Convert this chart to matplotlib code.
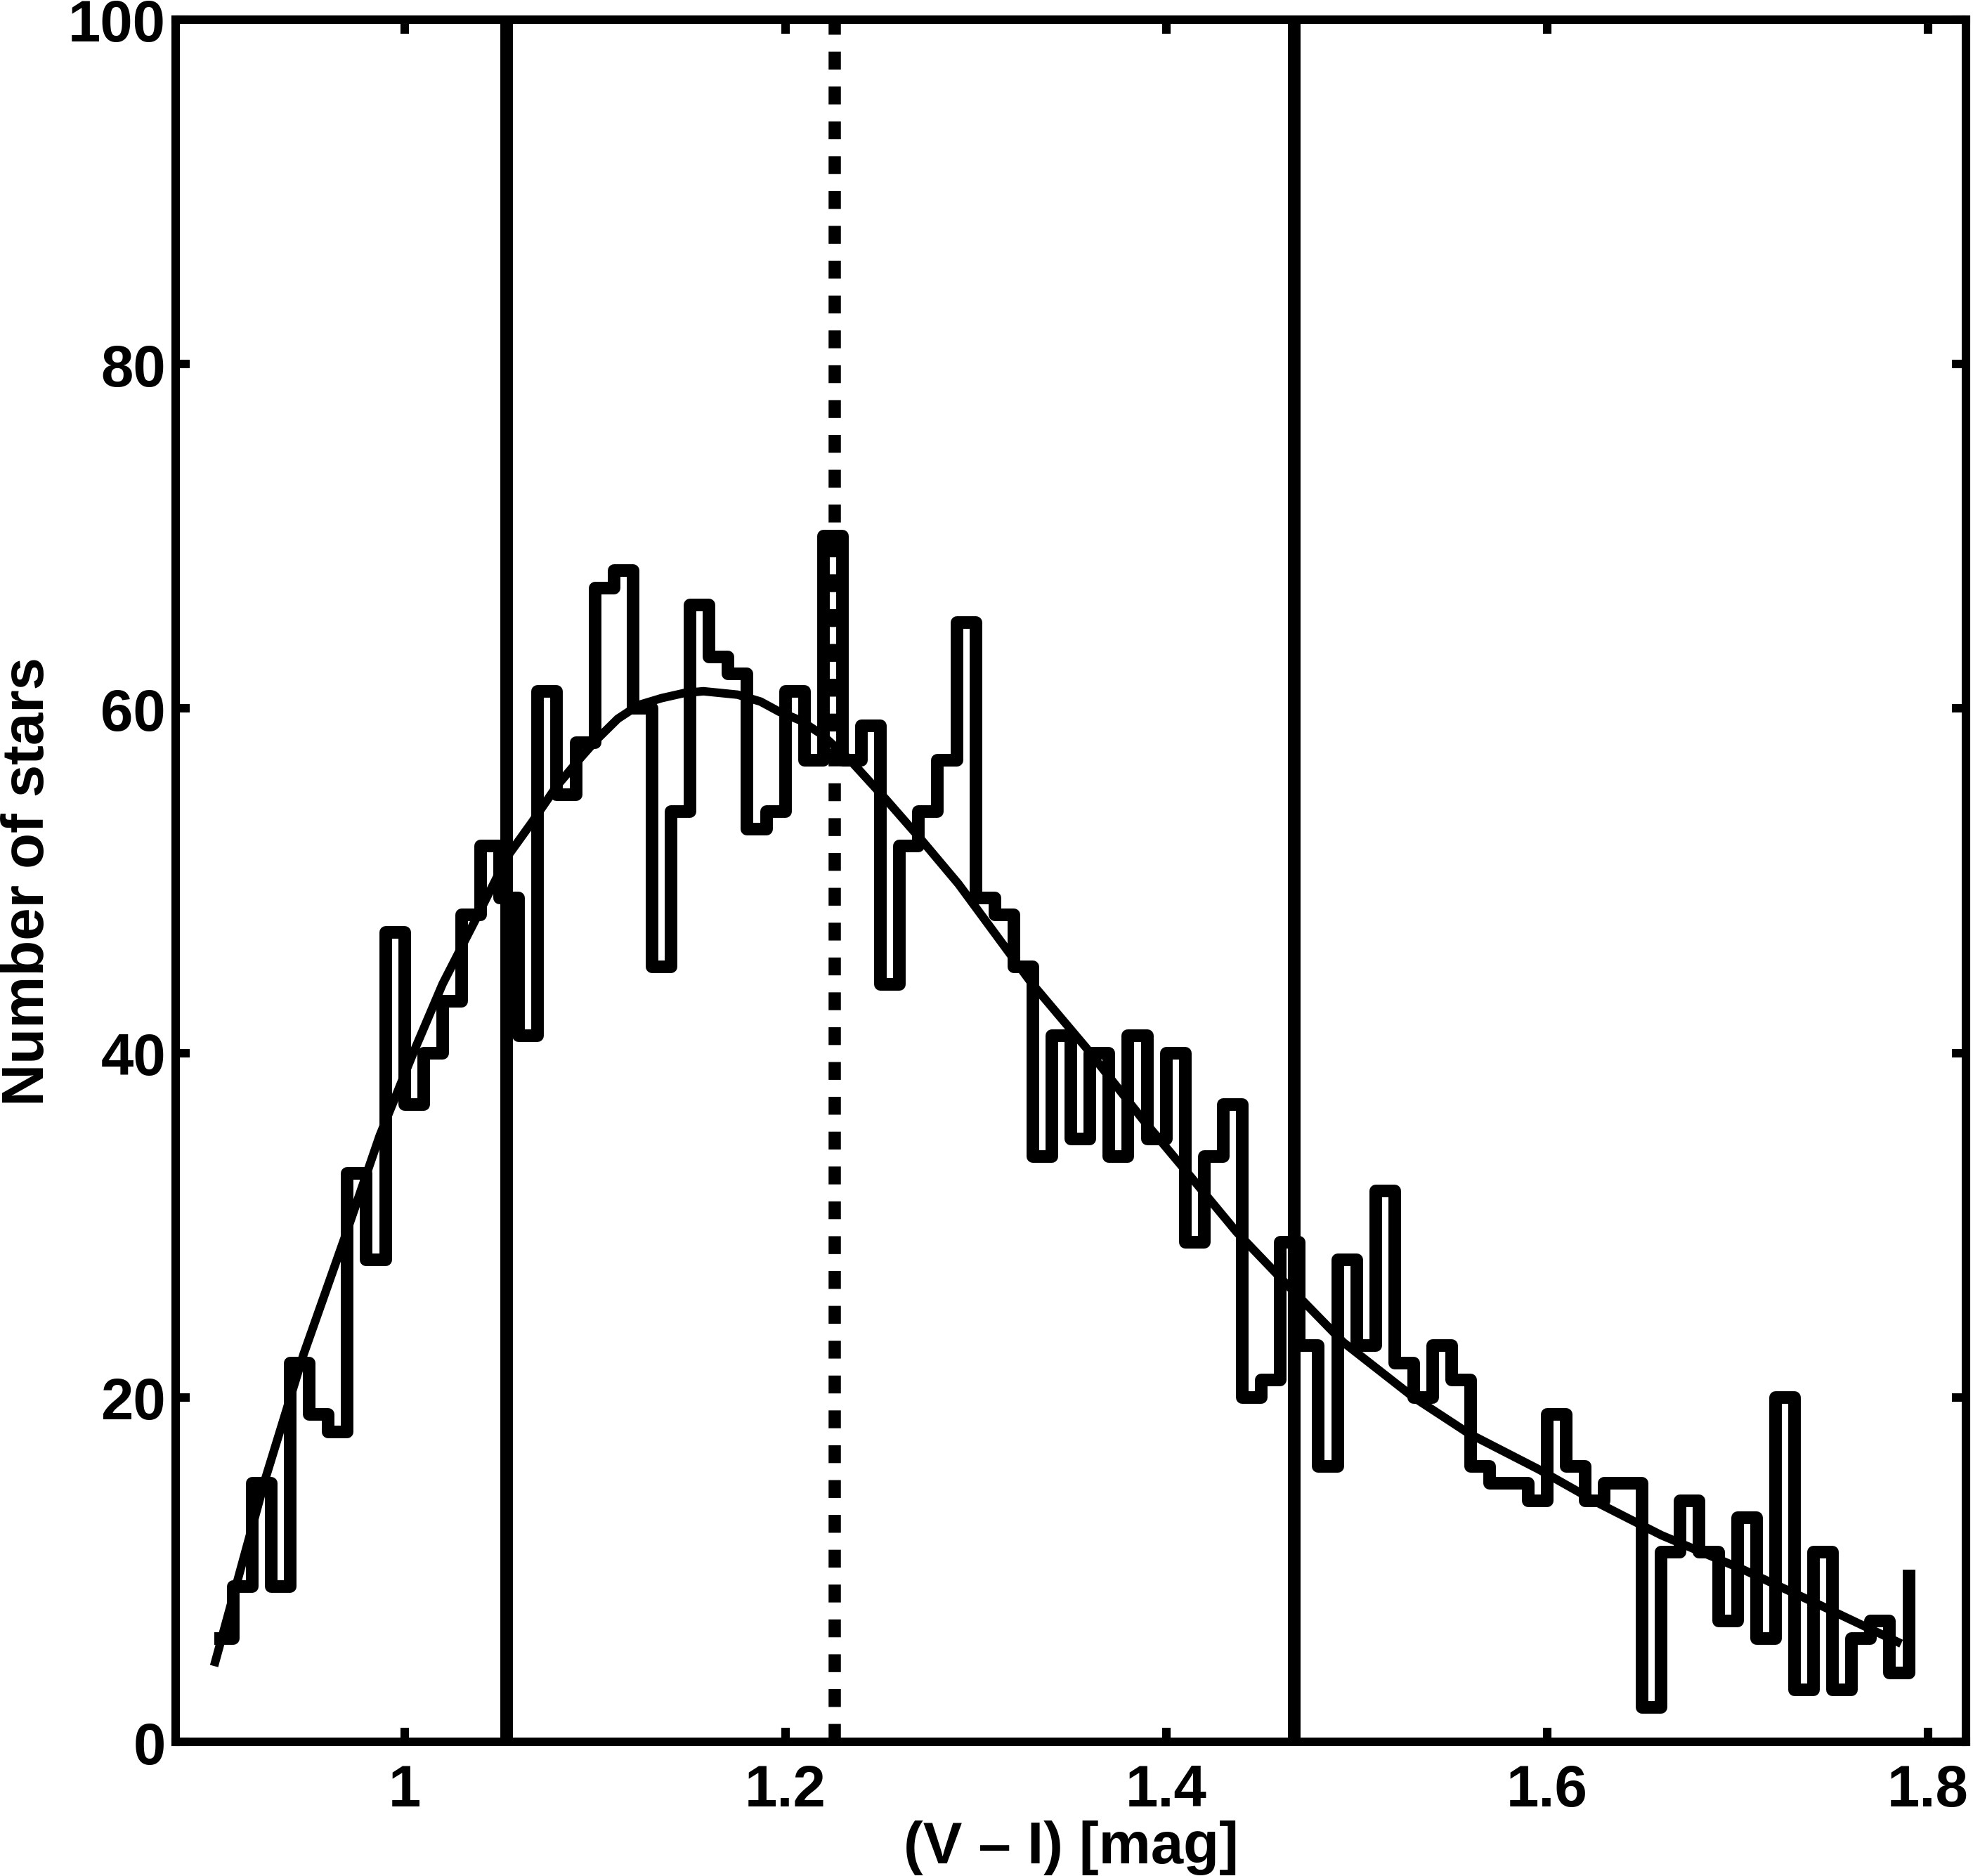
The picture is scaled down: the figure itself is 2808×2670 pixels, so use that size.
import matplotlib
matplotlib.use("Agg")
import matplotlib.pyplot as plt
import numpy as np

plt.rcParams['font.family'] = ['Liberation Sans', 'DejaVu Sans']
plt.rcParams['font.weight'] = 'bold'
plt.rcParams['lines.scale_dashes'] = False

# histogram of (V - I) colours, bins of 0.01 mag starting at 0.90
bin_start = 0.90
bin_width = 0.01
star_counts = [6, 9, 15, 9, 22, 19, 18, 33, 28, 47,
               37, 40, 43, 48, 52, 49, 41, 61, 55, 58,
               67, 68, 60, 45, 54, 66, 63, 62, 53, 54,
               61, 57, 70, 57, 59, 44, 52, 54, 57, 65,
               49, 48, 45, 34, 41, 35, 40, 34, 41, 35,
               40, 29, 34, 37, 20, 21, 29, 23, 16, 28,
               23, 32, 22, 20, 23, 21, 16, 15, 15, 14,
               19, 16, 14, 15, 15, 2, 11, 14, 11, 7,
               13, 6, 20, 3, 11, 3, 6, 7, 4, 10]

# fitted curve, points
fit_x = [0.900, 0.927, 0.947, 0.969, 0.987, 1.005, 1.020, 1.039, 1.054, 1.067,
         1.080, 1.093, 1.101, 1.112, 1.123, 1.135, 1.147, 1.157, 1.175, 1.187,
         1.197, 1.208, 1.219, 1.234, 1.253, 1.272, 1.291, 1.309, 1.329, 1.358,
         1.388, 1.416, 1.437, 1.463, 1.493, 1.530, 1.559, 1.596, 1.628, 1.660,
         1.703, 1.746, 1.786]
fit_y = [4.4, 15.3, 22.5, 29.4, 35.2, 40.1, 44.0, 48.1, 51.4, 53.4,
         55.5, 57.2, 58.2, 59.4, 60.2, 60.6, 60.9, 61.0, 60.8, 60.4,
         59.8, 59.3, 58.5, 57.0, 54.7, 52.3, 49.8, 47.1, 44.1, 40.3,
         36.1, 32.4, 29.6, 26.6, 23.2, 20.0, 17.9, 15.8, 13.8, 12.0,
         10.0, 7.8, 5.7]

# colour cuts
cut_lines = [1.0537, 1.4673]
median_line = 1.2261

xticks = [1, 1.2, 1.4, 1.6, 1.8]
xtick_labels = ['1', '1.2', '1.4', '1.6', '1.8']
yticks = [0, 20, 40, 60, 80, 100]

bins = np.round(bin_start + bin_width * np.arange(len(star_counts)), 2)

fig = plt.figure(figsize=(9.36, 8.9033), dpi=300)
ax = fig.add_axes([0.0892, 0.0715, 0.9072, 0.9177])

ax.step(bins, star_counts, where='post', color='k', lw=4.3,
        solid_joinstyle='round', solid_capstyle='butt')
ax.plot(fit_x, fit_y, color='k', lw=2.9, solid_capstyle='butt')

for c in cut_lines:
    ax.axvline(c, color='k', lw=4.3)
ax.axvline(median_line, color='k', lw=4.2, linestyle=(0, (6.1, 5.8)),
           dash_capstyle='butt')

ax.set_xlim(0.88, 1.82)
ax.set_ylim(0, 100)
ax.set_xticks(xticks)
ax.set_xticklabels(xtick_labels)
ax.set_yticks(yticks)

ax.tick_params(direction='in', length=4.8, width=2.9, top=True, right=True,
               labelsize=20)
ax.tick_params(axis='x', pad=7.3)
ax.tick_params(axis='y', pad=3.5)
for s in ax.spines.values():
    s.set_linewidth(2.9)

ax.set_xlabel('(V – I) [mag]', fontsize=20, fontweight='bold', labelpad=0.5)
ax.set_ylabel('Number of stars', fontsize=20, fontweight='bold', labelpad=4.3)

fig.savefig('out.png', dpi=300, facecolor='white')
